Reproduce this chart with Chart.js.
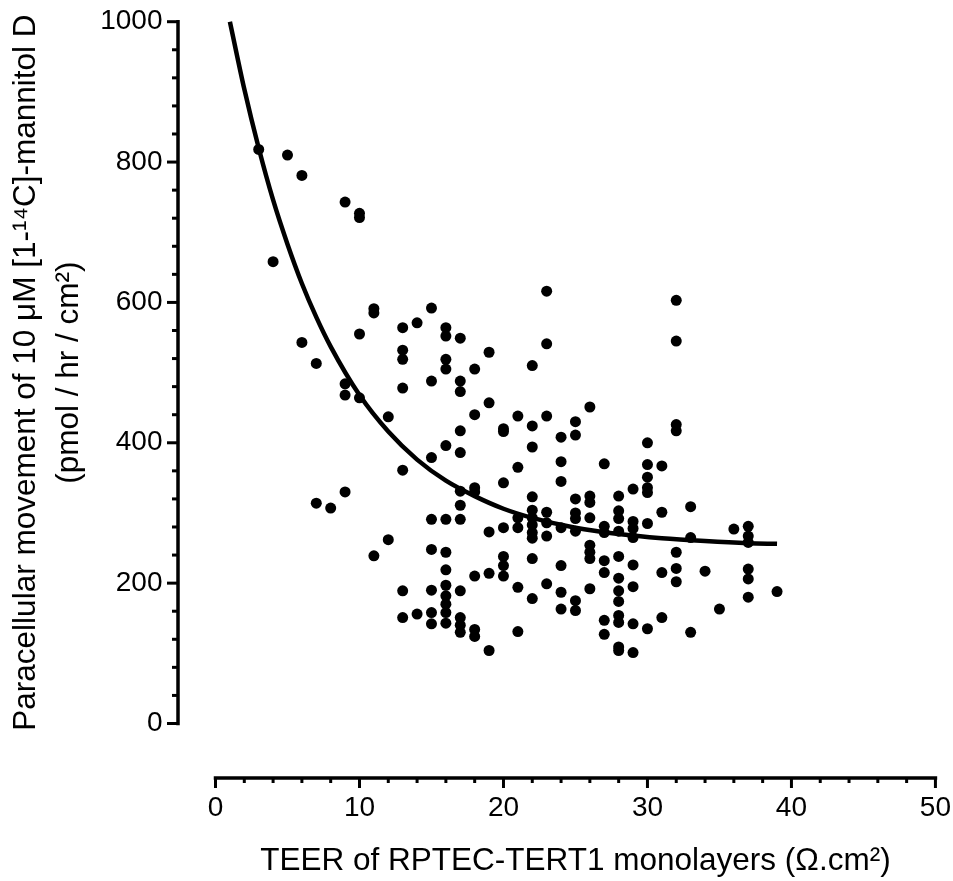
<!DOCTYPE html>
<html lang="en">

<head>
    <meta charset="UTF-8">
    <title>Paracellular mannitol flux vs TEER</title>
    <style>
        body {
            margin: 0;
            background: #fff;
        }

        canvas {
            display: block;
        }
    </style>
</head>

<body>
    <canvas id="chart" width="953" height="881"></canvas>
    <script src="https://cdn.jsdelivr.net/npm/chart.js"></script>
    <script>
        // TEER (x) and paracellular flux (y) for each monolayer
        const teer = [
            3, 4, 5, 6, 6, 7, 7, 8,
            9, 9, 9, 9, 10, 10, 10, 10, 11, 11, 11, 12, 12,
            13, 13, 13, 13, 13, 13, 13, 14, 14,
            15, 15, 15, 15, 15, 15, 15, 15,
            16, 16, 16, 16, 16, 16, 16, 16, 16, 16, 16, 16, 16,
            17, 17, 17, 17, 17, 17, 17, 17, 17, 17, 17, 17,
            18, 18, 18, 18, 18, 18, 18,
            19, 19, 19, 19, 19,
            20, 20, 20, 20, 20, 20, 20,
            21, 21, 21, 21, 21, 21,
            22, 22, 22, 22, 22, 22, 22, 22, 22, 22, 22,
            23, 23, 23, 23, 23, 23, 23,
            24, 24, 24, 24, 24, 24, 24,
            25, 25, 25, 25, 25, 25, 25, 25,
            26, 26, 26, 26, 26, 26, 26, 26,
            27, 27, 27, 27, 27, 27, 27,
            28, 28, 28, 28, 28, 28, 28, 28, 28, 28, 28, 28,
            29, 29, 29, 29, 29, 29, 29, 29,
            30, 30, 30, 30, 30, 30, 30,
            31, 31, 31, 31,
            32, 32, 32, 32, 32, 32, 32,
            33, 33, 33, 34, 35, 36,
            37, 37, 37, 37, 37, 37, 39
        ];
        const flux = [
            818, 658, 810, 781, 543, 513, 314, 307,
            743, 484, 468, 330, 727, 721, 555, 464, 591, 585, 239, 437, 262,
            564, 532, 519, 478, 361, 189, 151, 571, 156,
            592, 488, 379, 291, 248, 190, 158, 142,
            564, 552, 519, 505, 396, 291, 244, 219, 197, 182, 170, 158, 143,
            549, 488, 473, 417, 386, 331, 311, 291, 189, 151, 140, 130,
            505, 440, 336, 330, 210, 134, 124,
            529, 457, 273, 214, 104,
            420, 416, 343, 279, 238, 225, 210,
            438, 365, 293, 279, 194, 131,
            510, 424, 394, 323, 304, 293, 283, 272, 264, 235, 178,
            616, 541, 438, 301, 286, 267, 199,
            408, 373, 345, 279, 225, 187, 163,
            430, 411, 320, 300, 292, 274, 175, 161,
            451, 324, 315, 293, 254, 244, 235, 192,
            370, 281, 272, 232, 215, 147, 127,
            324, 303, 292, 274, 238, 207, 189, 174, 154, 144, 109, 104,
            334, 288, 278, 265, 226, 195, 142, 101,
            400, 369, 351, 336, 329, 285, 135,
            367, 301, 215, 151,
            603, 545, 426, 417, 244, 221, 202,
            309, 265, 130, 217, 163, 277,
            281, 267, 258, 220, 206, 180, 188
        ];

        // decay curve
        const curveX = [1, 2, 3, 4, 5, 6, 7, 8, 10, 12, 14, 16, 18, 20, 22, 25, 28, 31, 34, 37, 39];
        const curveY = [1000, 904, 820, 746, 683, 627, 579, 537, 468, 416, 376, 346, 324, 306, 293, 279, 270, 264, 260, 257, 256];

        const xTicks = [0, 10, 20, 30, 40, 50];
        const yTicks = [0, 200, 400, 600, 800, 1000];
        const xMinorStep = 2;
        const yMinorStep = 40;

        const FONT = '"Liberation Sans", Arial, Helvetica, sans-serif';
        const Y_AXIS_GAP = 37.5;   // y axis sits left of the data area
        const X_AXIS_GAP = 54.5;   // x axis sits below the data area

        // Prism style detached axes, drawn from the chart's own scales
        const detachedAxes = {
            id: 'detachedAxes',
            afterDraw(chart) {
                const { ctx, chartArea, scales } = chart;
                const xs = scales.x, ys = scales.y;
                const ax = chartArea.left - Y_AXIS_GAP;
                const ay = chartArea.bottom + X_AXIS_GAP;
                ctx.save();
                ctx.strokeStyle = '#000';

                // y axis
                const yTop = ys.getPixelForValue(yTicks[yTicks.length - 1]);
                const yBot = ys.getPixelForValue(yTicks[0]);
                ctx.lineCap = 'square';
                ctx.lineWidth = 3.5;
                ctx.beginPath();
                ctx.moveTo(ax, yTop);
                ctx.lineTo(ax, yBot);
                ctx.stroke();
                ctx.lineCap = 'butt';
                ctx.lineWidth = 3;
                for (let v = yTicks[0]; v <= yTicks[yTicks.length - 1]; v += yMinorStep) {
                    const py = ys.getPixelForValue(v);
                    const len = yTicks.includes(v) ? 11 : 6;
                    ctx.beginPath();
                    ctx.moveTo(ax - len, py);
                    ctx.lineTo(ax, py);
                    ctx.stroke();
                }

                // x axis
                const xL = xs.getPixelForValue(xTicks[0]);
                const xR = xs.getPixelForValue(xTicks[xTicks.length - 1]);
                ctx.lineCap = 'square';
                ctx.lineWidth = 3.5;
                ctx.beginPath();
                ctx.moveTo(xL, ay);
                ctx.lineTo(xR, ay);
                ctx.stroke();
                ctx.lineCap = 'butt';
                ctx.lineWidth = 3;
                for (let v = xTicks[0]; v <= xTicks[xTicks.length - 1]; v += xMinorStep) {
                    const px = xs.getPixelForValue(v);
                    const len = xTicks.includes(v) ? 10 : 5;
                    ctx.beginPath();
                    ctx.moveTo(px, ay);
                    ctx.lineTo(px, ay + len);
                    ctx.stroke();
                }
                ctx.restore();
            }
        };

        // invisible tick marks only push the labels away from the data area
        const hiddenTicks = len => ({
            display: true,
            drawOnChartArea: false,
            drawTicks: true,
            tickLength: len,
            tickColor: 'rgba(0,0,0,0)',
            color: 'rgba(0,0,0,0)'
        });

        new Chart(document.getElementById('chart'), {
            type: 'scatter',
            data: {
                datasets: [{
                    label: 'Monolayers',
                    data: teer.map((t, i) => ({ x: t, y: flux[i] })),
                    pointRadius: 5.5,
                    pointBackgroundColor: '#000',
                    pointBorderWidth: 0,
                    clip: false
                }, {
                    label: 'Fit',
                    data: curveX.map((t, i) => ({ x: t, y: curveY[i] })),
                    showLine: true,
                    borderColor: '#000',
                    borderWidth: 4.5,
                    pointRadius: 0,
                    cubicInterpolationMode: 'monotone',
                    clip: false
                }]
            },
            options: {
                responsive: false,
                animation: false,
                layout: {
                    padding: { top: 21.7, right: 17, left: 0, bottom: 0 }
                },
                plugins: {
                    legend: { display: false },
                    tooltip: { enabled: false }
                },
                scales: {
                    x: {
                        type: 'linear',
                        position: 'bottom',
                        min: 0,
                        max: 50,
                        afterFit: s => { s.height = 157.5; },
                        afterBuildTicks: s => { s.ticks = xTicks.map(v => ({ value: v })); },
                        grid: hiddenTicks(66),
                        border: { display: false },
                        ticks: {
                            color: '#000',
                            padding: 2,
                            maxRotation: 0,
                            font: { family: FONT, size: 28 },
                            callback: v => String(v)
                        },
                        title: {
                            display: true,
                            text: 'TEER of RPTEC-TERT1 monolayers (Ω.cm²)',
                            color: '#000',
                            font: { family: FONT, size: 31.5 },
                            padding: { top: 0, bottom: 1 }
                        }
                    },
                    y: {
                        type: 'linear',
                        position: 'left',
                        min: 0,
                        max: 1000,
                        afterFit: s => { s.width = 215.5; },
                        afterBuildTicks: s => { s.ticks = yTicks.map(v => ({ value: v })); },
                        grid: hiddenTicks(50),
                        border: { display: false },
                        ticks: {
                            color: '#000',
                            padding: 3,
                            font: { family: FONT, size: 28 },
                            callback: v => String(v)
                        },
                        title: {
                            display: true,
                            text: ['Paracellular movement of 10 μM [1-¹⁴C]-mannitol D', '(pmol / hr / cm²)'],
                            color: '#000',
                            font: { family: FONT, size: 31.5, lineHeight: 1.34 },
                            padding: { top: 5.5, bottom: 0 }
                        }
                    }
                }
            },
            plugins: [detachedAxes]
        });
    </script>
</body>

</html>
